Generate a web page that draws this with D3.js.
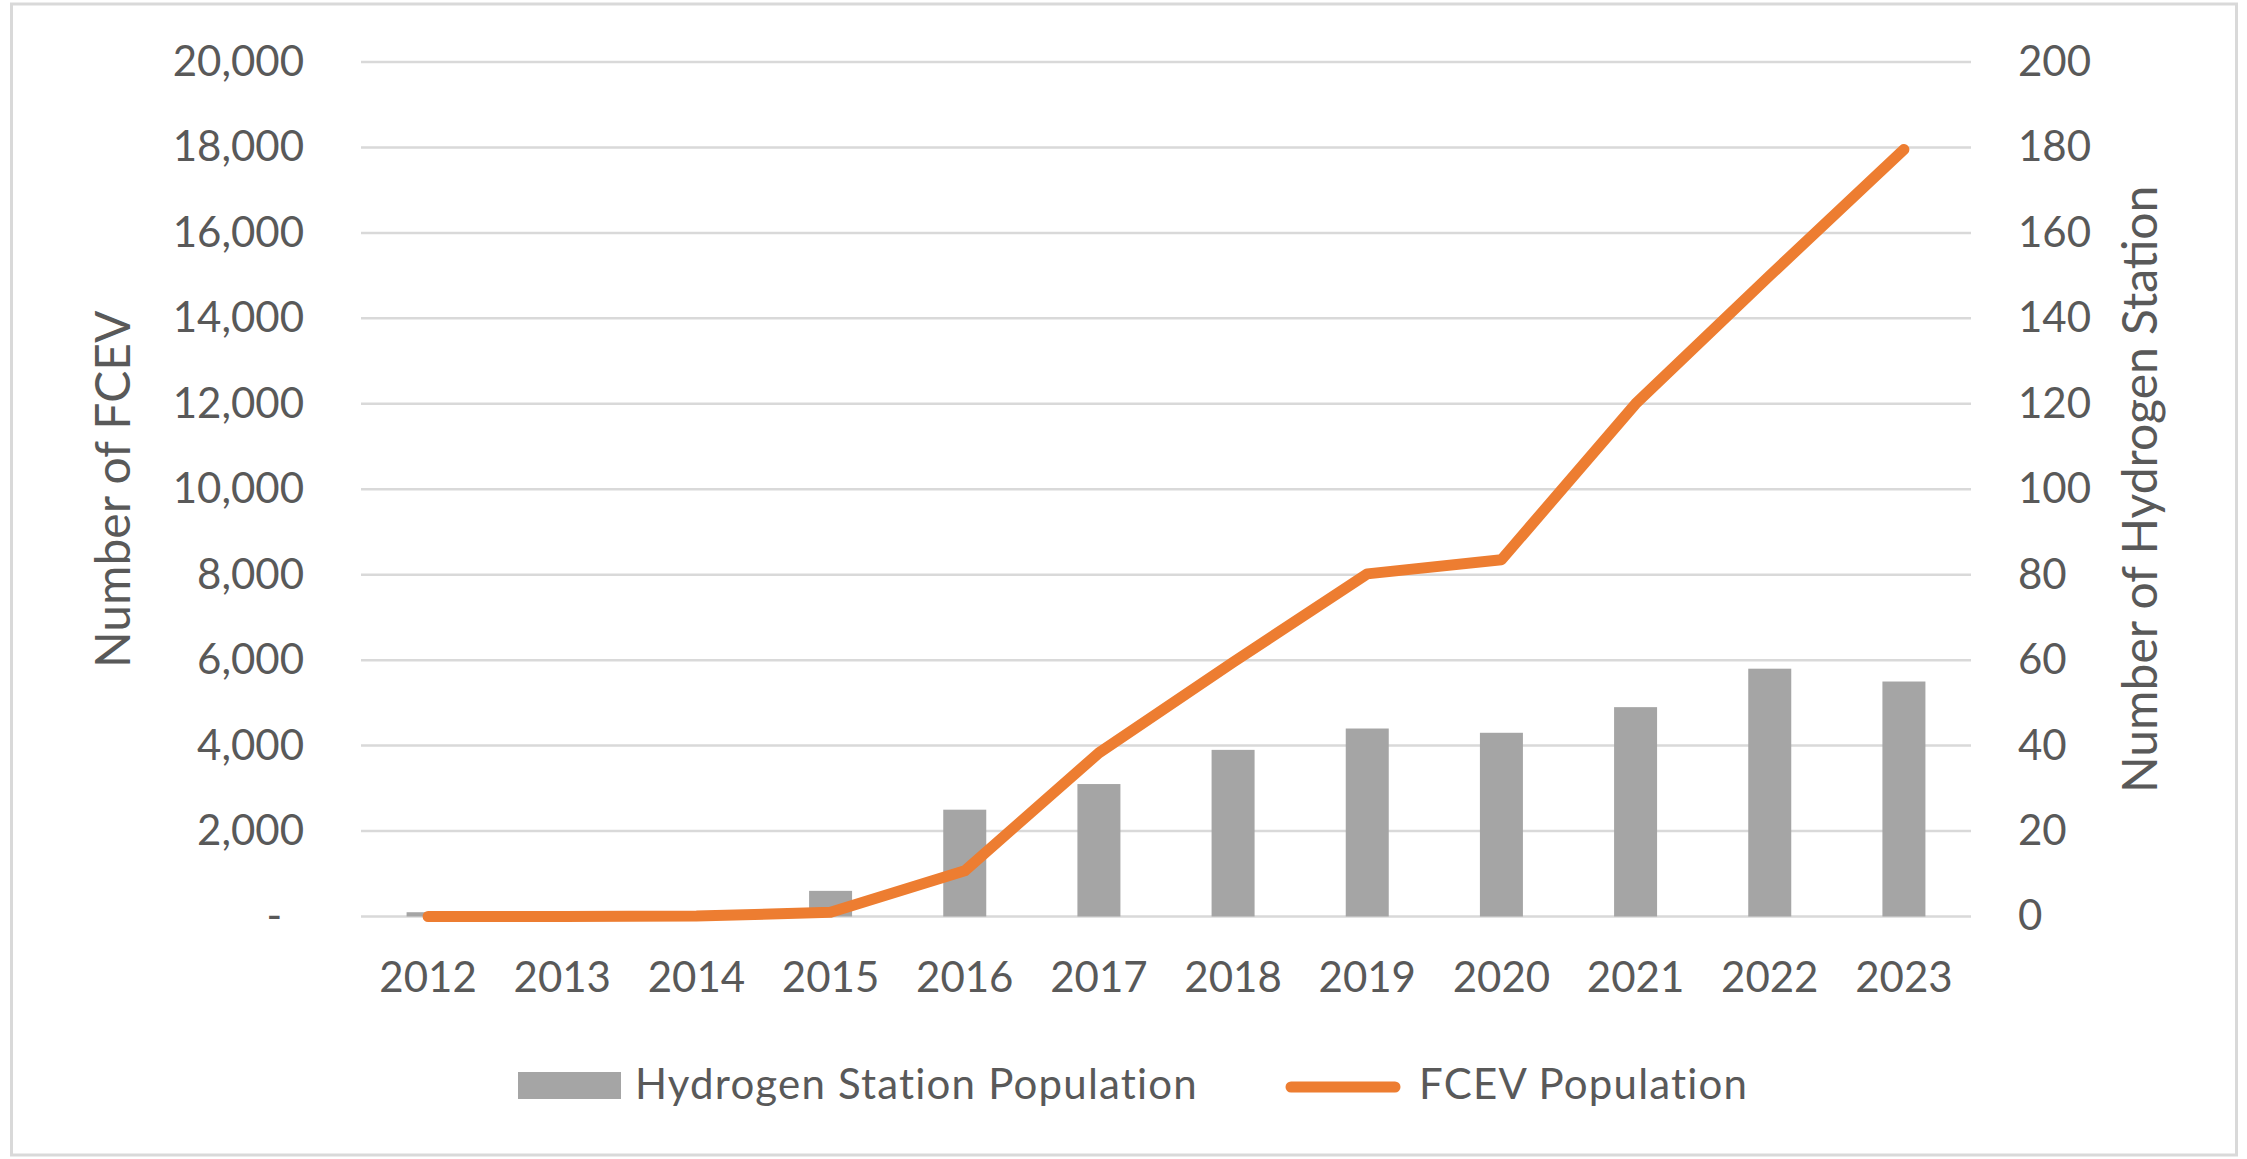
<!DOCTYPE html>
<html>
<head>
<meta charset="utf-8">
<script src="https://cdn.jsdelivr.net/npm/d3@7/dist/d3.min.js"></script>
<style>
body { margin: 0; background: #fff; }
text { font-family: Lato, "Open Sans", sans-serif; fill: #595959; }
</style>
</head>
<body>
<script>
var years = ["2012", "2013", "2014", "2015", "2016", "2017", "2018", "2019", "2020", "2021", "2022", "2023"];
var stations = [1, 0, 0, 6, 25, 31, 39, 44, 43, 49, 58, 55];
var fcev = [0, 0, 10, 100, 1070, 3830, 5950, 8020, 8350, 12000, 15000, 17950];
var leftTicks = [0, 2000, 4000, 6000, 8000, 10000, 12000, 14000, 16000, 18000, 20000];
var rightTicks = [0, 20, 40, 60, 80, 100, 120, 140, 160, 180, 200];

var W = 2247, H = 1159;
var margin = {top: 62, right: 276, bottom: 242.5, left: 361},
    width = W - margin.left - margin.right,
    height = H - margin.top - margin.bottom;

var x = d3.scaleBand()
    .domain(years)
    .range([0, width]);

var y = d3.scaleLinear()
    .domain([0, 20000])
    .range([height, 0]);

var y2 = d3.scaleLinear()
    .domain([0, 200])
    .range([height, 0]);

var svg = d3.select("body").append("svg")
    .attr("width", W)
    .attr("height", H);

// outer frame
svg.append("rect")
    .attr("x", 11.5).attr("y", 4)
    .attr("width", 2225).attr("height", 1151)
    .attr("fill", "none")
    .attr("stroke", "#d9d9d9")
    .attr("stroke-width", 3);

var g = svg.append("g")
    .attr("transform", "translate(" + margin.left + "," + margin.top + ")");

// gridlines
g.selectAll(".grid")
    .data(leftTicks)
  .enter().append("line")
    .attr("class", "grid")
    .attr("x1", 0).attr("x2", width)
    .attr("y1", function(d) { return y(d); })
    .attr("y2", function(d) { return y(d); })
    .attr("stroke", "#d9d9d9")
    .attr("stroke-width", 2.5);

// station bars
var barW = 43;
g.selectAll(".bar")
    .data(stations)
  .enter().append("rect")
    .attr("class", "bar")
    .attr("x", function(d, i) { return x(years[i]) + x.bandwidth() / 2 - barW / 2; })
    .attr("y", function(d) { return y2(d); })
    .attr("width", barW)
    .attr("height", function(d) { return height - y2(d); })
    .attr("fill", "#a5a5a5");

// fcev line
var line = d3.line()
    .x(function(d, i) { return x(years[i]) + x.bandwidth() / 2; })
    .y(function(d) { return y(d); });

g.append("path")
    .datum(fcev)
    .attr("d", line)
    .attr("fill", "none")
    .attr("stroke", "#ed7d31")
    .attr("stroke-width", 11)
    .attr("stroke-linejoin", "round")
    .attr("stroke-linecap", "round");

// axes
var yAxis = d3.axisLeft(y)
    .tickValues(leftTicks)
    .tickSize(0)
    .tickPadding(57)
    .tickFormat(function(d) { return d === 0 ? "-" : d3.format(",")(d); });

var yAxis2 = d3.axisRight(y2)
    .tickValues(rightTicks)
    .tickSize(0)
    .tickPadding(47);

var xAxis = d3.axisBottom(x)
    .tickSize(0)
    .tickPadding(46);

function style(sel) {
  sel.select(".domain").remove();
  sel.selectAll("text")
      .attr("fill", "#595959")
      .style("font-size", "42px");
}

g.append("g").call(yAxis).call(style)
  .selectAll(".tick")
    .filter(function(d) { return d === 0; })
    .select("text")
    .attr("dx", -22);

g.append("g")
    .attr("transform", "translate(" + width + ",0)")
    .call(yAxis2).call(style);

g.append("g")
    .attr("transform", "translate(0," + height + ")")
    .call(xAxis).call(style);

// axis titles
svg.append("text")
    .attr("transform", "translate(130," + (margin.top + height / 2) + ") rotate(-90)")
    .attr("text-anchor", "middle")
    .style("font-size", "48px")
    .text("Number of FCEV");

svg.append("text")
    .attr("transform", "translate(2157," + (margin.top + height / 2) + ") rotate(-90)")
    .attr("text-anchor", "middle")
    .style("font-size", "48px")
    .text("Number of Hydrogen Station");

// legend
var legend = svg.append("g");

legend.append("rect")
    .attr("x", 518).attr("y", 1072)
    .attr("width", 103).attr("height", 27)
    .attr("fill", "#a5a5a5");

legend.append("text")
    .attr("x", 635).attr("y", 1099)
    .style("font-size", "42px")
    .style("letter-spacing", "1.2px")
    .text("Hydrogen Station Population");

legend.append("line")
    .attr("x1", 1291).attr("x2", 1395)
    .attr("y1", 1087).attr("y2", 1087)
    .attr("stroke", "#ed7d31")
    .attr("stroke-width", 11)
    .attr("stroke-linecap", "round");

legend.append("text")
    .attr("x", 1419).attr("y", 1099)
    .style("font-size", "42px")
    .style("letter-spacing", "1.2px")
    .text("FCEV Population");
</script>
</body>
</html>
